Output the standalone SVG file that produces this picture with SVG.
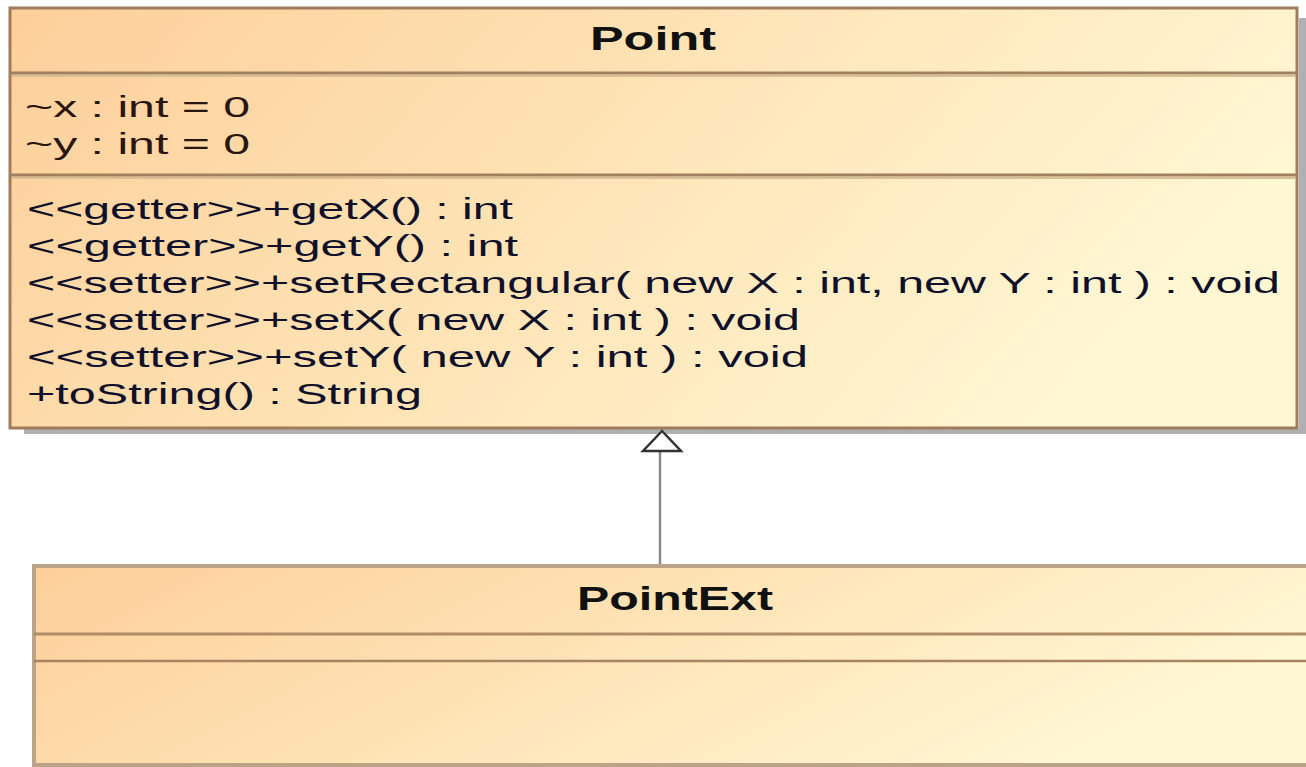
<svg xmlns="http://www.w3.org/2000/svg" width="1306" height="767" viewBox="0 0 1306 767">
<defs>
<linearGradient id="fill" x1="0" y1="0" x2="1" y2="0.3">
<stop offset="0" stop-color="#fdcf9a"/>
<stop offset="0.5" stop-color="#fee3b5"/>
<stop offset="1" stop-color="#fff6d2"/>
</linearGradient>
<style>
.txt{font-family:"Liberation Sans",Arial,sans-serif;font-size:29px;}
.attr{fill:#2a1510;}
.meth{fill:#10102a;}
.title{font-family:"Liberation Sans",Arial,sans-serif;font-size:34px;font-weight:bold;fill:#111;}
.box{stroke:#9e7c5c;stroke-width:3;}
.div{stroke:#a0805f;stroke-width:3;}
.divl{stroke:#d9bf98;stroke-width:2;}
.shadow{fill:#b0b0b0;}
</style>
</defs>
<rect width="1306" height="767" fill="#ffffff"/>
<g id="connectors">
<line x1="660" y1="451" x2="660" y2="566" stroke="#8a8a8a" stroke-width="2.5"/>
</g>
<g id="Point">
<rect class="shadow" x="1299" y="18" width="7" height="415"/>
<rect class="shadow" x="24" y="429" width="1282" height="5"/>
<rect class="box" x="10" y="8" width="1287" height="420" fill="url(#fill)"/>
<line class="div" x1="10" y1="73" x2="1297" y2="73"/>
<line class="divl" x1="12" y1="76" x2="1295" y2="76"/>
<line class="div" x1="10" y1="175" x2="1297" y2="175"/>
<line class="divl" x1="12" y1="178" x2="1295" y2="178"/>
<text class="title" x="590" y="50" textLength="126" lengthAdjust="spacingAndGlyphs">Point</text>
<text class="txt attr" x="25" y="117" textLength="225" lengthAdjust="spacingAndGlyphs">~x : int = 0</text>
<text class="txt attr" x="25" y="154" textLength="225" lengthAdjust="spacingAndGlyphs">~y : int = 0</text>
<text class="txt meth" x="27" y="219" textLength="486" lengthAdjust="spacingAndGlyphs">&lt;&lt;getter&gt;&gt;+getX() : int</text>
<text class="txt meth" x="27" y="256" textLength="491" lengthAdjust="spacingAndGlyphs">&lt;&lt;getter&gt;&gt;+getY() : int</text>
<text class="txt meth" x="27" y="293" textLength="1253" lengthAdjust="spacingAndGlyphs">&lt;&lt;setter&gt;&gt;+setRectangular( new X : int, new Y : int ) : void</text>
<text class="txt meth" x="27" y="330" textLength="773" lengthAdjust="spacingAndGlyphs">&lt;&lt;setter&gt;&gt;+setX( new X : int ) : void</text>
<text class="txt meth" x="27" y="367" textLength="781" lengthAdjust="spacingAndGlyphs">&lt;&lt;setter&gt;&gt;+setY( new Y : int ) : void</text>
<text class="txt meth" x="27" y="404" textLength="395" lengthAdjust="spacingAndGlyphs">+toString() : String</text>
</g>
<g id="arrowhead">
<polygon points="662,431 643,451 681,451" fill="#ffffff" stroke="#333333" stroke-width="2.5" stroke-linejoin="miter"/>
</g>
<g id="PointExt">
<rect x="34" y="566" width="1290" height="199" fill="url(#fill)" stroke="#bba387" stroke-width="4"/>
<line x1="34" y1="634" x2="1306" y2="634" stroke="#b08c68" stroke-width="3"/>
<line x1="34" y1="661" x2="1306" y2="661" stroke="#a88462" stroke-width="2.5"/>
<text class="title" x="577" y="610" textLength="196" lengthAdjust="spacingAndGlyphs">PointExt</text>
</g>
</svg>
